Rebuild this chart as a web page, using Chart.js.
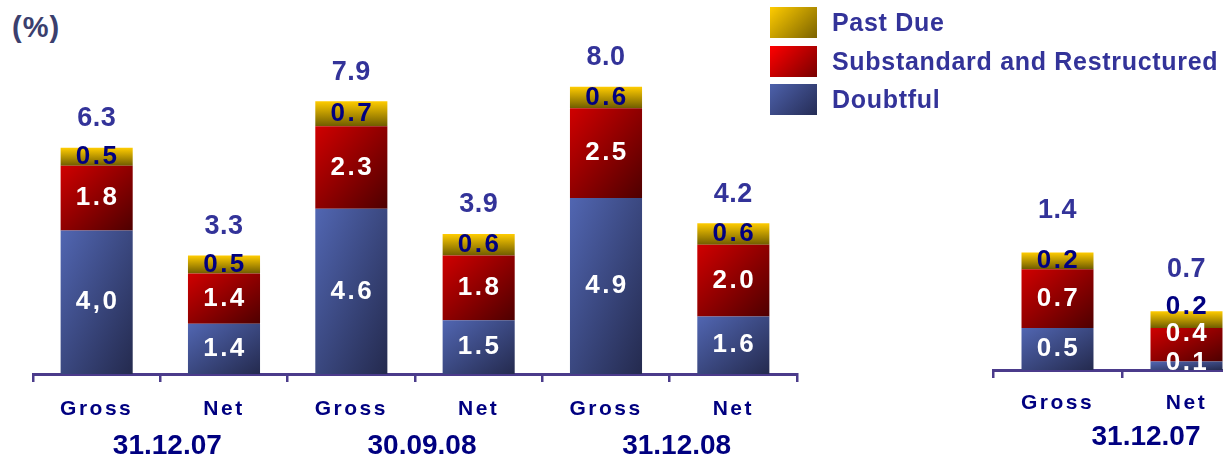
<!DOCTYPE html>
<html>
<head>
<meta charset="utf-8">
<script src="https://cdn.jsdelivr.net/npm/chart.js@4.4.1/dist/chart.umd.min.js"></script>
<style>
html, body { margin: 0; padding: 0; width: 1223px; height: 455px; overflow: hidden; background: #fff; }
body { position: relative; font-family: "Liberation Sans", Arial, sans-serif; }
#main { position: absolute; left: 0; top: 0; }
#mini { position: absolute; left: 960px; top: 0; }
#unit { position: absolute; left: 12px; top: 11px; font-family: "Liberation Sans", Arial, sans-serif; font-weight: bold; font-size: 29px; color: #3b3f6e; letter-spacing: 1px; }
#legend { position: absolute; left: 770px; top: 7px; }
.row { position: relative; height: 31px; margin-bottom: 7.5px; }
.sw { position: absolute; left: 0; top: 0; width: 47px; height: 31px; }
.txt { position: absolute; left: 62px; top: 0; line-height: 31px; white-space: nowrap; font-family: "Liberation Sans", Arial, sans-serif; font-weight: bold; font-size: 25px; color: #333399; letter-spacing: 0.7px; }
</style>
</head>
<body>
<div id="unit">(%)</div>
<canvas id="main" width="800" height="455"></canvas>
<canvas id="mini" width="300" height="455"></canvas>
<div id="legend"></div>
<script>
// 数据
const categories = ['Gross', 'Net', 'Gross', 'Net', 'Gross', 'Net'];
const periods = ['31.12.07', '30.09.08', '31.12.08'];
const doubtful = [4.0, 1.4, 4.6, 1.5, 4.9, 1.6];
const doubtfulText = ['4,0', '1.4', '4.6', '1.5', '4.9', '1.6'];
const substandard = [1.8, 1.4, 2.3, 1.8, 2.5, 2.0];
const pastDue = [0.5, 0.5, 0.7, 0.6, 0.6, 0.6];
const totals = [6.3, 3.3, 7.9, 3.9, 8.0, 4.2];

const miniCategories = ['Gross', 'Net'];
const miniPeriods = ['31.12.07'];
const miniDoubtful = [0.5, 0.1];
const miniSubstandard = [0.7, 0.4];
const miniPastDue = [0.2, 0.2];
const miniTotals = [1.4, 0.7];

const seriesNames = ['Past Due', 'Substandard and Restructured', 'Doubtful'];

const NAVY = '#000080';
const AXIS = '#4b3b8b';
const FONT = '"Liberation Sans", Arial, sans-serif';

// 渐变填充：从左上角到右下角
function cornerFill(c0, c1, vertical, barFrac) {
    return (context) => {
        const chart = context.chart;
        const xs = chart.scales.x, ys = chart.scales.y;
        if (!xs || !ys || context.type !== 'data') return c0;
        const i = context.dataIndex, di = context.datasetIndex;
        let start = 0;
        for (let k = 0; k < di; k++) start += chart.data.datasets[k].data[i];
        const end = start + chart.data.datasets[di].data[i];
        const xc = xs.getPixelForValue(i);
        const half = xs.width / xs.getLabels().length * barFrac / 2;
        const x0 = xc - half, x1 = xc + half;
        const y0 = ys.getPixelForValue(end), y1 = ys.getPixelForValue(start);
        if (![x0, x1, y0, y1].every(Number.isFinite) || x1 - x0 < 1) return c0;
        const w = x1 - x0, h = Math.max(y1 - y0, 1);
        let g;
        if (vertical) {
            g = chart.ctx.createLinearGradient(xc, y0, xc, y0 + h);
        } else {
            const a = 1 / (2 * w), b = 1 / (2 * h);
            const n = a * a + b * b;
            g = chart.ctx.createLinearGradient(x0, y0, x0 + a / n, y0 + b / n);
        }
        g.addColorStop(0, c0);
        g.addColorStop(1, c1);
        return g;
    };
}

// 柱内数值与总数
const segmentLabels = {
    id: 'segmentLabels',
    beforeDraw(chart) {
        chart.ctx.letterSpacing = '2.5px';
    },
    beforeDatasetsDraw(chart) {
        chart.ctx.letterSpacing = '0px';
    },
    afterDatasetsDraw(chart, args, opts) {
        const ctx = chart.ctx;
        ctx.save();
        ctx.textAlign = 'center';
        ctx.textBaseline = 'middle';
        chart.data.datasets.forEach((ds, di) => {
            const meta = chart.getDatasetMeta(di);
            meta.data.forEach((bar, i) => {
                const p = bar.getProps(['x', 'y', 'base'], true);
                const shift = opts.shifts && opts.shifts[i] ? opts.shifts[i][di] : 0;
                ctx.font = 'bold 26px ' + FONT;
                ctx.letterSpacing = '2.5px';
                ctx.fillStyle = ds.labelColor;
                const text = ds.texts ? ds.texts[i] : ds.data[i].toFixed(1);
                ctx.fillText(text, p.x + 1, (p.y + p.base) / 2 + shift);
            });
        });
        const topMeta = chart.getDatasetMeta(chart.data.datasets.length - 1);
        ctx.font = 'bold 27px ' + FONT;
        ctx.letterSpacing = '0.5px';
        ctx.fillStyle = '#333399';
        topMeta.data.forEach((bar, i) => {
            const p = bar.getProps(['x', 'y'], true);
            ctx.fillText(opts.totals[i].toFixed(1), p.x, p.y - opts.gap);
        });
        ctx.restore();
        ctx.letterSpacing = '0px';
    }
};

function makeChart(id, cfg) {
    const frac = cfg.barFrac;
    return new Chart(document.getElementById(id), {
        type: 'bar',
        data: {
            labels: cfg.labels,
            datasets: [
                { label: seriesNames[2], data: cfg.doubtful, texts: cfg.doubtfulText, labelColor: '#ffffff',
                  backgroundColor: cornerFill('#5166b2', '#242a4e', false, frac) },
                { label: seriesNames[1], data: cfg.substandard, labelColor: '#ffffff',
                  backgroundColor: cornerFill('#d00000', '#4e0000', false, frac) },
                { label: seriesNames[0], data: cfg.pastDue, labelColor: NAVY,
                  backgroundColor: cornerFill('#ffcc00', '#6f5c00', true, frac) }
            ]
        },
        options: {
            responsive: false,
            animation: false,
            events: [],
            barPercentage: frac,
            categoryPercentage: 1,
            layout: { padding: cfg.padding },
            plugins: {
                legend: { display: false },
                tooltip: { enabled: false },
                segmentLabels: { totals: cfg.totals, gap: cfg.gap, shifts: cfg.shifts }
            },
            scales: {
                y: { display: false, stacked: true, min: 0, max: cfg.yMax },
                x: {
                    stacked: true,
                    offset: true,
                    weight: 0,
                    grid: { offset: true, drawOnChartArea: false, drawTicks: true, tickLength: 8, color: AXIS, lineWidth: 2.5 },
                    border: { display: true, color: AXIS, width: 3 },
                    ticks: { color: NAVY, font: { family: FONT, size: 21, weight: 'bold' }, padding: cfg.tickPad, autoSkip: false, maxRotation: 0 },
                    afterFit: (s) => { s.height = cfg.xHeight; }
                },
                x2: {
                    type: 'category',
                    labels: cfg.periods,
                    position: 'bottom',
                    offset: true,
                    weight: 1,
                    grid: { display: false },
                    border: { display: false },
                    ticks: { z: 1, color: NAVY, font: { family: FONT, size: 28, weight: 'bold' }, padding: cfg.periodPad, labelOffset: cfg.periodOffset, autoSkip: false, maxRotation: 0 },
                    afterFit: (s) => { s.height = cfg.x2Height; }
                }
            }
        },
        plugins: [segmentLabels]
    });
}

makeChart('main', {
    labels: categories, periods: periods,
    doubtful: doubtful, doubtfulText: doubtfulText, substandard: substandard, pastDue: pastDue, totals: totals,
    barFrac: 0.566, yMax: 10,
    padding: { left: 33, right: 3, top: 15, bottom: 0 },
    xHeight: 46, x2Height: 35, tickPad: 15, periodPad: 1, periodOffset: 7, gap: 29
});

makeChart('mini', {
    labels: miniCategories, periods: miniPeriods,
    doubtful: miniDoubtful, substandard: miniSubstandard, pastDue: miniPastDue, totals: miniTotals,
    barFrac: 0.558, yMax: 3,
    padding: { left: 33, right: 9, top: 118, bottom: 0 },
    xHeight: 42, x2Height: 43, tickPad: 13, periodPad: 0, periodOffset: 24, gap: 42,
    shifts: { 1: [-3, -11, -13] }
});

// 图例
const swatches = [
    'linear-gradient(135deg, #ffcc00, #7a6200)',
    'linear-gradient(135deg, #ff0000, #780000)',
    'linear-gradient(135deg, #4d61ab, #252c55)'
];
const legendEl = document.getElementById('legend');
seriesNames.forEach((name, i) => {
    const row = document.createElement('div');
    row.className = 'row';
    row.innerHTML = '<div class="sw" style="background:' + swatches[i] + '"></div><div class="txt"></div>';
    row.querySelector('.txt').innerText = name;
    legendEl.appendChild(row);
});
</script>
</body>
</html>
